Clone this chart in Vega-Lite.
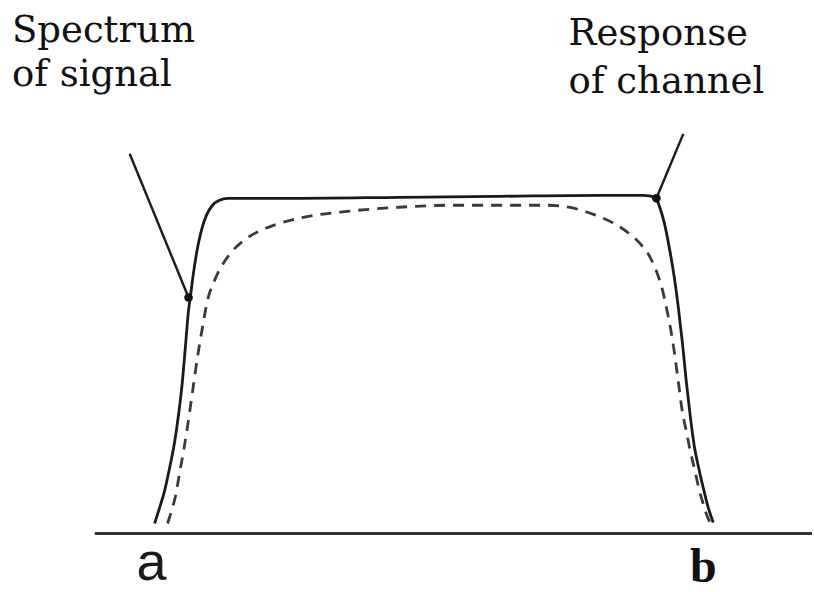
{
  "$schema": "https://vega.github.io/schema/vega-lite/v6.json",
  "width": 814,
  "height": 592,
  "autosize": {"type": "fit", "contains": "padding"},
  "padding": 0,
  "background": "white",
  "config": {"view": {"stroke": null}},
  "datasets": {
    "curves": [
      {"f": 155, "a": 10, "s": "channel", "o": 1},
      {"f": 160, "a": 26, "s": "channel", "o": 2},
      {"f": 165, "a": 43, "s": "channel", "o": 3},
      {"f": 170, "a": 66, "s": "channel", "o": 4},
      {"f": 175, "a": 92, "s": "channel", "o": 5},
      {"f": 179, "a": 120, "s": "channel", "o": 6},
      {"f": 183, "a": 155, "s": "channel", "o": 7},
      {"f": 186, "a": 190, "s": "channel", "o": 8},
      {"f": 189, "a": 225, "s": "channel", "o": 9},
      {"f": 191, "a": 240, "s": "channel", "o": 10},
      {"f": 194, "a": 263, "s": "channel", "o": 11},
      {"f": 198, "a": 288, "s": "channel", "o": 12},
      {"f": 202, "a": 306, "s": "channel", "o": 13},
      {"f": 207, "a": 321, "s": "channel", "o": 14},
      {"f": 213, "a": 331, "s": "channel", "o": 15},
      {"f": 220, "a": 336, "s": "channel", "o": 16},
      {"f": 228, "a": 338, "s": "channel", "o": 17},
      {"f": 300, "a": 338, "s": "channel", "o": 18},
      {"f": 400, "a": 339, "s": "channel", "o": 19},
      {"f": 500, "a": 340, "s": "channel", "o": 20},
      {"f": 600, "a": 341, "s": "channel", "o": 21},
      {"f": 645, "a": 341, "s": "channel", "o": 22},
      {"f": 657, "a": 339, "s": "channel", "o": 23},
      {"f": 661, "a": 330, "s": "channel", "o": 24},
      {"f": 666, "a": 313, "s": "channel", "o": 25},
      {"f": 671, "a": 288, "s": "channel", "o": 26},
      {"f": 676, "a": 258, "s": "channel", "o": 27},
      {"f": 680, "a": 228, "s": "channel", "o": 28},
      {"f": 684, "a": 193, "s": "channel", "o": 29},
      {"f": 688, "a": 153, "s": "channel", "o": 30},
      {"f": 692, "a": 118, "s": "channel", "o": 31},
      {"f": 696, "a": 88, "s": "channel", "o": 32},
      {"f": 700, "a": 68, "s": "channel", "o": 33},
      {"f": 705, "a": 46, "s": "channel", "o": 34},
      {"f": 710, "a": 26, "s": "channel", "o": 35},
      {"f": 715, "a": 11, "s": "channel", "o": 36},
      {"f": 168, "a": 10, "s": "signal", "o": 1},
      {"f": 172, "a": 23, "s": "signal", "o": 2},
      {"f": 176, "a": 38, "s": "signal", "o": 3},
      {"f": 180, "a": 61, "s": "signal", "o": 4},
      {"f": 184, "a": 83, "s": "signal", "o": 5},
      {"f": 188, "a": 108, "s": "signal", "o": 6},
      {"f": 193, "a": 143, "s": "signal", "o": 7},
      {"f": 198, "a": 178, "s": "signal", "o": 8},
      {"f": 203, "a": 208, "s": "signal", "o": 9},
      {"f": 208, "a": 235, "s": "signal", "o": 10},
      {"f": 215, "a": 255, "s": "signal", "o": 11},
      {"f": 223, "a": 271, "s": "signal", "o": 12},
      {"f": 233, "a": 285, "s": "signal", "o": 13},
      {"f": 245, "a": 296, "s": "signal", "o": 14},
      {"f": 258, "a": 304, "s": "signal", "o": 15},
      {"f": 275, "a": 311, "s": "signal", "o": 16},
      {"f": 300, "a": 318, "s": "signal", "o": 17},
      {"f": 350, "a": 325, "s": "signal", "o": 18},
      {"f": 400, "a": 329, "s": "signal", "o": 19},
      {"f": 450, "a": 331, "s": "signal", "o": 20},
      {"f": 500, "a": 331, "s": "signal", "o": 21},
      {"f": 550, "a": 331, "s": "signal", "o": 22},
      {"f": 575, "a": 328, "s": "signal", "o": 23},
      {"f": 597, "a": 321, "s": "signal", "o": 24},
      {"f": 615, "a": 313, "s": "signal", "o": 25},
      {"f": 630, "a": 303, "s": "signal", "o": 26},
      {"f": 642, "a": 292, "s": "signal", "o": 27},
      {"f": 652, "a": 278, "s": "signal", "o": 28},
      {"f": 659, "a": 262, "s": "signal", "o": 29},
      {"f": 664, "a": 246, "s": "signal", "o": 30},
      {"f": 668, "a": 228, "s": "signal", "o": 31},
      {"f": 672, "a": 208, "s": "signal", "o": 32},
      {"f": 676, "a": 183, "s": "signal", "o": 33},
      {"f": 680, "a": 153, "s": "signal", "o": 34},
      {"f": 684, "a": 123, "s": "signal", "o": 35},
      {"f": 688, "a": 103, "s": "signal", "o": 36},
      {"f": 692, "a": 83, "s": "signal", "o": 37},
      {"f": 696, "a": 66, "s": "signal", "o": 38},
      {"f": 700, "a": 48, "s": "signal", "o": 39},
      {"f": 704, "a": 33, "s": "signal", "o": 40},
      {"f": 708, "a": 20, "s": "signal", "o": 41},
      {"f": 712, "a": 10, "s": "signal", "o": 42}
    ],
    "pointers": [
      {"f1": 130, "a1": 383, "f2": 189, "a2": 238},
      {"f1": 685, "a1": 403, "f2": 658, "a2": 338}
    ],
    "labels": [
      {"f": 12, "a": 496, "t": "Spectrum"},
      {"f": 12, "a": 451, "t": "of signal"},
      {"f": 570, "a": 493, "t": "Response"},
      {"f": 570, "a": 444, "t": "of channel"}
    ],
    "ends": [
      {"f": 152, "a": -47, "t": "a", "k": "sans"},
      {"f": 705, "a": -49, "t": "b", "k": "bold"}
    ]
  },
  "layer": [
    {
      "data": {"values": [{"f1": 95, "f2": 814, "a": 0}]},
      "mark": {"type": "rule", "stroke": "#333333", "strokeWidth": 3},
      "encoding": {
        "x": {"field": "f1", "type": "quantitative", "scale": {"domain": [0, 814], "nice": false, "zero": false}, "axis": null},
        "x2": {"field": "f2"},
        "y": {"field": "a", "type": "quantitative", "scale": {"domain": [-54, 538], "nice": false, "zero": false}, "axis": null}
      }
    },
    {
      "data": {"name": "curves"},
      "transform": [{"filter": "datum.s === 'signal'"}],
      "mark": {"type": "line", "stroke": "#3a3a3a", "strokeWidth": 2.8, "strokeDash": [11, 8], "interpolate": "monotone"},
      "encoding": {
        "x": {"field": "f", "type": "quantitative", "scale": {"domain": [0, 814], "nice": false, "zero": false}, "axis": null},
        "y": {"field": "a", "type": "quantitative", "scale": {"domain": [-54, 538], "nice": false, "zero": false}, "axis": null},
        "order": {"field": "o"}
      }
    },
    {
      "data": {"name": "curves"},
      "transform": [{"filter": "datum.s === 'channel'"}],
      "mark": {"type": "line", "stroke": "#1a1a1a", "strokeWidth": 2.8, "interpolate": "monotone"},
      "encoding": {
        "x": {"field": "f", "type": "quantitative", "scale": {"domain": [0, 814], "nice": false, "zero": false}, "axis": null},
        "y": {"field": "a", "type": "quantitative", "scale": {"domain": [-54, 538], "nice": false, "zero": false}, "axis": null},
        "order": {"field": "o"}
      }
    },
    {
      "data": {"name": "pointers"},
      "mark": {"type": "rule", "stroke": "#1a1a1a", "strokeWidth": 2.4},
      "encoding": {
        "x": {"field": "f1", "type": "quantitative", "scale": {"domain": [0, 814], "nice": false, "zero": false}, "axis": null},
        "x2": {"field": "f2"},
        "y": {"field": "a1", "type": "quantitative", "scale": {"domain": [-54, 538], "nice": false, "zero": false}, "axis": null},
        "y2": {"field": "a2"}
      }
    },
    {
      "data": {"name": "pointers"},
      "mark": {"type": "circle", "color": "#111111", "opacity": 1, "size": 75},
      "encoding": {
        "x": {"field": "f2", "type": "quantitative", "scale": {"domain": [0, 814], "nice": false, "zero": false}, "axis": null},
        "y": {"field": "a2", "type": "quantitative", "scale": {"domain": [-54, 538], "nice": false, "zero": false}, "axis": null}
      }
    },
    {
      "data": {"name": "labels"},
      "mark": {"type": "text", "align": "left", "baseline": "alphabetic", "font": "DejaVu Serif", "fontSize": 37, "color": "#111111"},
      "encoding": {
        "x": {"field": "f", "type": "quantitative", "scale": {"domain": [0, 814], "nice": false, "zero": false}, "axis": null},
        "y": {"field": "a", "type": "quantitative", "scale": {"domain": [-54, 538], "nice": false, "zero": false}, "axis": null},
        "text": {"field": "t"}
      }
    },
    {
      "data": {"name": "ends"},
      "transform": [{"filter": "datum.k === 'sans'"}],
      "mark": {"type": "text", "align": "center", "baseline": "alphabetic", "font": "Liberation Sans", "fontSize": 54, "color": "#1a1a1a"},
      "encoding": {
        "x": {"field": "f", "type": "quantitative", "scale": {"domain": [0, 814], "nice": false, "zero": false}, "axis": null},
        "y": {"field": "a", "type": "quantitative", "scale": {"domain": [-54, 538], "nice": false, "zero": false}, "axis": null},
        "text": {"field": "t"}
      }
    },
    {
      "data": {"name": "ends"},
      "transform": [{"filter": "datum.k === 'bold'"}],
      "mark": {"type": "text", "align": "center", "baseline": "alphabetic", "font": "Liberation Serif", "fontWeight": "bold", "fontSize": 48, "color": "#111111"},
      "encoding": {
        "x": {"field": "f", "type": "quantitative", "scale": {"domain": [0, 814], "nice": false, "zero": false}, "axis": null},
        "y": {"field": "a", "type": "quantitative", "scale": {"domain": [-54, 538], "nice": false, "zero": false}, "axis": null},
        "text": {"field": "t"}
      }
    }
  ]
}
